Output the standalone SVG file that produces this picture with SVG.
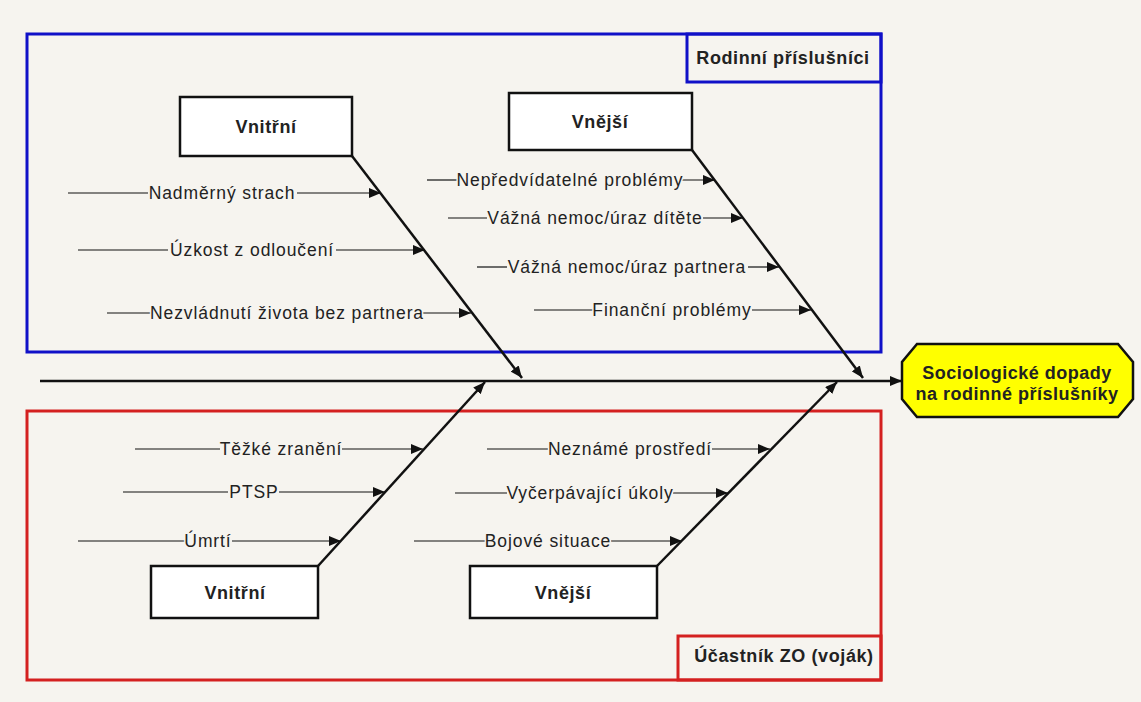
<svg xmlns="http://www.w3.org/2000/svg" width="1141" height="702" viewBox="0 0 1141 702">
<defs>
<style>
.bg{fill:#f6f4ef}
.frameB{fill:none;stroke:#1010c8;stroke-width:3}
.frameR{fill:none;stroke:#d42020;stroke-width:3}
.box{fill:#ffffff;stroke:#111;stroke-width:2.5}
.bone{stroke:#111;stroke-width:2.5;fill:none;marker-end:url(#ah)}
.rib{stroke:#111;stroke-width:1.2;fill:none}
.ribA{stroke:#111;stroke-width:1.2;fill:none;marker-end:url(#ah)}
.lbl{font-family:"Liberation Sans",Arial,sans-serif;font-size:17.5px;letter-spacing:0.9px;fill:#222;text-anchor:middle;paint-order:stroke;stroke:#f6f4ef;stroke-width:3px;stroke-linejoin:round}
.bt{font-family:"Liberation Sans",Arial,sans-serif;font-size:18px;letter-spacing:0.6px;font-weight:bold;fill:#222;text-anchor:middle}
.ht{font-family:"Liberation Sans",Arial,sans-serif;font-size:18px;letter-spacing:0.5px;font-weight:bold;fill:#222;text-anchor:middle}
</style>
<marker id="ah" markerUnits="userSpaceOnUse" markerWidth="14" markerHeight="10" refX="12" refY="5" orient="auto">
<path d="M0,0 L12,5 L0,10 Z" fill="#111"/>
</marker>
</defs>
<rect class="bg" x="0" y="0" width="1141" height="702"/>

<g id="frame-family">
<rect class="frameB" x="27" y="34" width="854" height="318"/>
<rect class="frameB" x="687" y="34" width="194" height="48"/>
<text class="bt" x="783" y="64">Rodinní příslušníci</text>
</g>
<g id="frame-soldier">
<rect class="frameR" x="27" y="411" width="854" height="269"/>
<rect class="frameR" x="678" y="636" width="203" height="44"/>
<text class="bt" x="784" y="662">Účastník ZO (voják)</text>
</g>

<g id="connectors">
<line class="bone" x1="40" y1="381" x2="902" y2="381"/>
<line class="bone" x1="352" y1="156" x2="522" y2="378"/>
<line class="bone" x1="692" y1="150" x2="863" y2="378"/>
<line class="bone" x1="318" y1="566" x2="485" y2="382"/>
<line class="bone" x1="657" y1="566" x2="837" y2="382"/>
<line class="rib" x1="68" y1="193" x2="148" y2="193"/><line class="ribA" x1="297" y1="193" x2="381" y2="193"/>
<line class="rib" x1="78" y1="250" x2="168" y2="250"/><line class="ribA" x1="336" y1="250" x2="425" y2="250"/>
<line class="rib" x1="107" y1="313" x2="153" y2="313"/><line class="ribA" x1="422" y1="313" x2="471" y2="313"/>
<line class="rib" x1="427" y1="180" x2="459" y2="180"/><line class="ribA" x1="681" y1="180" x2="715" y2="180"/>
<line class="rib" x1="448" y1="218" x2="487" y2="218"/><line class="ribA" x1="703" y1="218" x2="743" y2="218"/>
<line class="rib" x1="477" y1="267" x2="507" y2="267"/><line class="ribA" x1="748" y1="267" x2="779" y2="267"/>
<line class="rib" x1="534" y1="310" x2="593" y2="310"/><line class="ribA" x1="752" y1="310" x2="811" y2="310"/>
<line class="rib" x1="135" y1="449" x2="220" y2="449"/><line class="ribA" x1="342" y1="449" x2="423" y2="449"/>
<line class="rib" x1="123" y1="492" x2="228" y2="492"/><line class="ribA" x1="279" y1="492" x2="385" y2="492"/>
<line class="rib" x1="78" y1="541" x2="185" y2="541"/><line class="ribA" x1="232" y1="541" x2="341" y2="541"/>
<line class="rib" x1="487" y1="449" x2="548" y2="449"/><line class="ribA" x1="712" y1="449" x2="770" y2="449"/>
<line class="rib" x1="455" y1="493" x2="507" y2="493"/><line class="ribA" x1="673" y1="493" x2="728" y2="493"/>
<line class="rib" x1="414" y1="541" x2="485" y2="541"/><line class="ribA" x1="611" y1="541" x2="682" y2="541"/>
</g>

<g id="rib-labels">
<text class="lbl" x="222" y="199">Nadměrný strach</text>
<text class="lbl" x="252" y="256">Úzkost z odloučení</text>
<text class="lbl" x="287" y="319">Nezvládnutí života bez partnera</text>
<text class="lbl" x="570" y="186">Nepředvídatelné problémy</text>
<text class="lbl" x="595" y="224">Vážná nemoc/úraz dítěte</text>
<text class="lbl" x="627" y="273">Vážná nemoc/úraz partnera</text>
<text class="lbl" x="672" y="316">Finanční problémy</text>
<text class="lbl" x="281" y="455">Těžké zranění</text>
<text class="lbl" x="254" y="498">PTSP</text>
<text class="lbl" x="208" y="547">Úmrtí</text>
<text class="lbl" x="630" y="455">Neznámé prostředí</text>
<text class="lbl" x="590" y="499">Vyčerpávající úkoly</text>
<text class="lbl" x="548" y="547">Bojové situace</text>
</g>

<g id="node-top-vnitrni">
<rect class="box" x="180" y="97" width="172" height="59"/>
<text class="bt" x="266" y="133">Vnitřní</text>
</g>
<g id="node-top-vnejsi">
<rect class="box" x="509" y="93" width="183" height="57"/>
<text class="bt" x="600" y="128">Vnější</text>
</g>
<g id="node-bottom-vnitrni">
<rect class="box" x="151" y="566" width="167" height="52"/>
<text class="bt" x="235" y="599">Vnitřní</text>
</g>
<g id="node-bottom-vnejsi">
<rect class="box" x="470" y="566" width="187" height="52"/>
<text class="bt" x="563" y="599">Vnější</text>
</g>

<g id="node-head">
<polygon points="917,344 1118,344 1133,362 1133,399 1118,417 917,417 902,399 902,362" fill="#ffff00" stroke="#111" stroke-width="2.5"/>
<text class="ht" x="1017" y="379">Sociologické dopady</text>
<text class="ht" x="1017" y="400">na rodinné příslušníky</text>
</g>
</svg>
